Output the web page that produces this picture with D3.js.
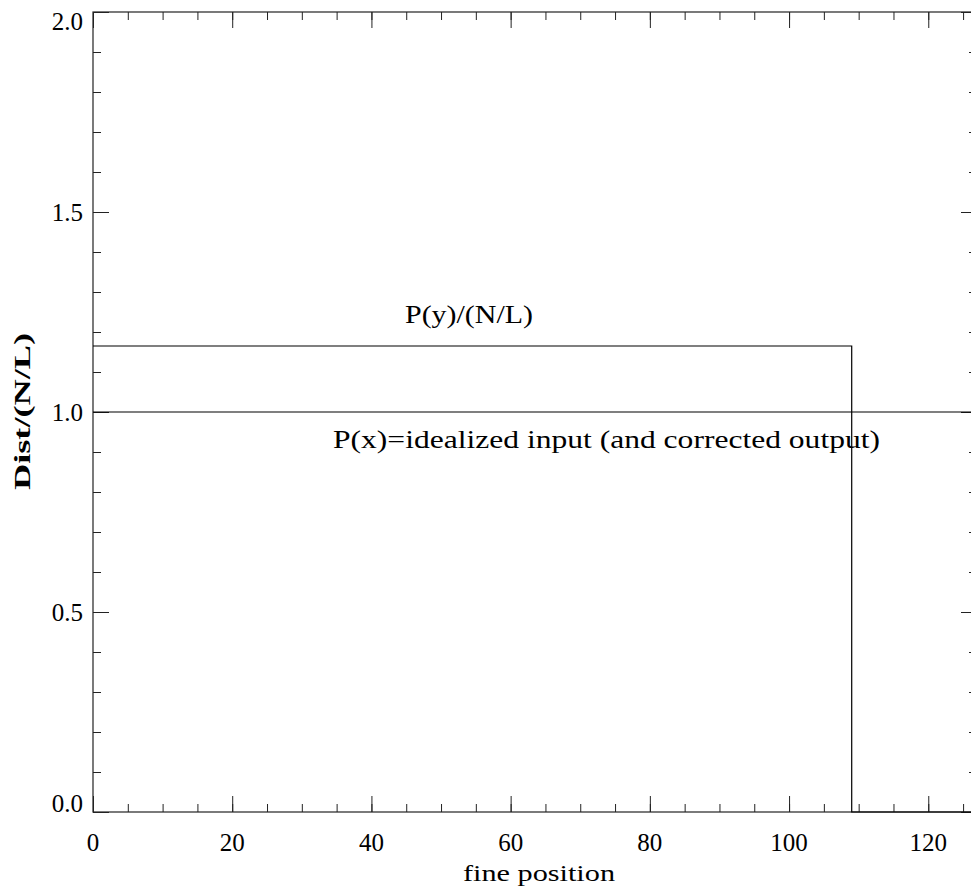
<!DOCTYPE html>
<html>
<head>
<meta charset="utf-8">
<script src="https://cdn.jsdelivr.net/npm/d3@7"></script>
<style>
  html, body { margin: 0; padding: 0; background: #fff; }
  svg text { font-family: "Liberation Serif", "DejaVu Serif", serif; fill: #000; }
</style>
</head>
<body>
<div id="chart"></div>
<script>
// data
const pyX = [0, 109, 127];          // P(y)/(N/L), step edges
const pyVals = [1.165, 0, 0];
const pxX = [0, 127];               // P(x)=idealized input
const pxVals = [1.0, 1.0];
const xTicks = [0, 20, 40, 60, 80, 100, 120];
const yTicks = [0.0, 0.5, 1.0, 1.5, 2.0];

const width = 971, height = 896;
const plotLeft = 93, plotRight = 977, plotTop = 12, plotBottom = 812;

const svg = d3.select("#chart").append("svg")
    .attr("width", width)
    .attr("height", height);

const xScale = d3.scaleLinear().domain([0, 127]).range([plotLeft, plotRight]);
const yScale = d3.scaleLinear().domain([0, 2]).range([plotBottom, plotTop]);

const xMinor = d3.range(0, 128, 5);
const yMinor = d3.range(0, 2.01, 0.1);

// frame
svg.append("rect")
    .attr("x", plotLeft).attr("y", plotTop)
    .attr("width", plotRight - plotLeft).attr("height", plotBottom - plotTop)
    .attr("fill", "none").attr("stroke", "#222").attr("stroke-width", 1.2);

function tickAxis(axis, pos, size, values) {
    const g = svg.append("g")
        .attr("transform", pos)
        .call(axis.tickValues(values).tickSize(size).tickSizeOuter(0).tickFormat(""));
    g.select(".domain").remove();
    g.selectAll("line").attr("stroke", "#222");
    return g;
}

// minor ticks
tickAxis(d3.axisTop(xScale), `translate(0,${plotBottom})`, 8, xMinor);
tickAxis(d3.axisBottom(xScale), `translate(0,${plotTop})`, 8, xMinor);
tickAxis(d3.axisRight(yScale), `translate(${plotLeft},0)`, 8, yMinor);
tickAxis(d3.axisLeft(yScale), `translate(${plotRight},0)`, 8, yMinor);
// major ticks
tickAxis(d3.axisTop(xScale), `translate(0,${plotBottom})`, 16, xTicks);
tickAxis(d3.axisBottom(xScale), `translate(0,${plotTop})`, 16, xTicks);
tickAxis(d3.axisRight(yScale), `translate(${plotLeft},0)`, 16, yTicks);
tickAxis(d3.axisLeft(yScale), `translate(${plotRight},0)`, 16, yTicks);

// tick labels
svg.append("g").selectAll("text").data(xTicks).join("text")
    .attr("x", d => xScale(d))
    .attr("y", plotBottom + 39)
    .attr("text-anchor", "middle")
    .attr("font-size", 25)
    .text(d => d);

svg.append("g").selectAll("text").data(yTicks).join("text")
    .attr("x", plotLeft - 10)
    .attr("y", d => d === 0 ? yScale(d) : d === 2 ? yScale(d) + 18 : yScale(d) + 9)
    .attr("text-anchor", "end")
    .attr("font-size", 25)
    .text(d => d3.format(".1f")(d));

// axis titles
svg.append("text")
    .attr("x", (463 + 615) / 2)
    .attr("y", 881)
    .attr("text-anchor", "middle")
    .attr("font-size", 24)
    .attr("textLength", 152)
    .attr("lengthAdjust", "spacingAndGlyphs")
    .text("fine position");

svg.append("text")
    .attr("transform", `translate(30,${(333 + 490) / 2}) rotate(-90)`)
    .attr("text-anchor", "middle")
    .attr("font-size", 23)
    .attr("font-weight", "bold")
    .attr("textLength", 157)
    .attr("lengthAdjust", "spacingAndGlyphs")
    .text("Dist/(N/L)");

// lines
const line = d3.line()
    .x(d => xScale(d.x))
    .y(d => yScale(d.v));

svg.append("path")
    .datum(pxX.map((x, i) => ({x: x, v: pxVals[i]})))
    .attr("d", line)
    .attr("fill", "none").attr("stroke", "#000").attr("stroke-width", 1.2);

svg.append("path")
    .datum(pyX.map((x, i) => ({x: x, v: pyVals[i]})))
    .attr("d", line.curve(d3.curveStepAfter))
    .attr("fill", "none").attr("stroke", "#000").attr("stroke-width", 1.2);

// annotations
svg.append("text")
    .attr("x", 405).attr("y", 323)
    .attr("font-size", 25)
    .attr("textLength", 128)
    .attr("lengthAdjust", "spacingAndGlyphs")
    .text("P(y)/(N/L)");

svg.append("text")
    .attr("x", 333).attr("y", 448)
    .attr("font-size", 25)
    .attr("textLength", 547)
    .attr("lengthAdjust", "spacingAndGlyphs")
    .text("P(x)=idealized input (and corrected output)");
</script>
</body>
</html>
